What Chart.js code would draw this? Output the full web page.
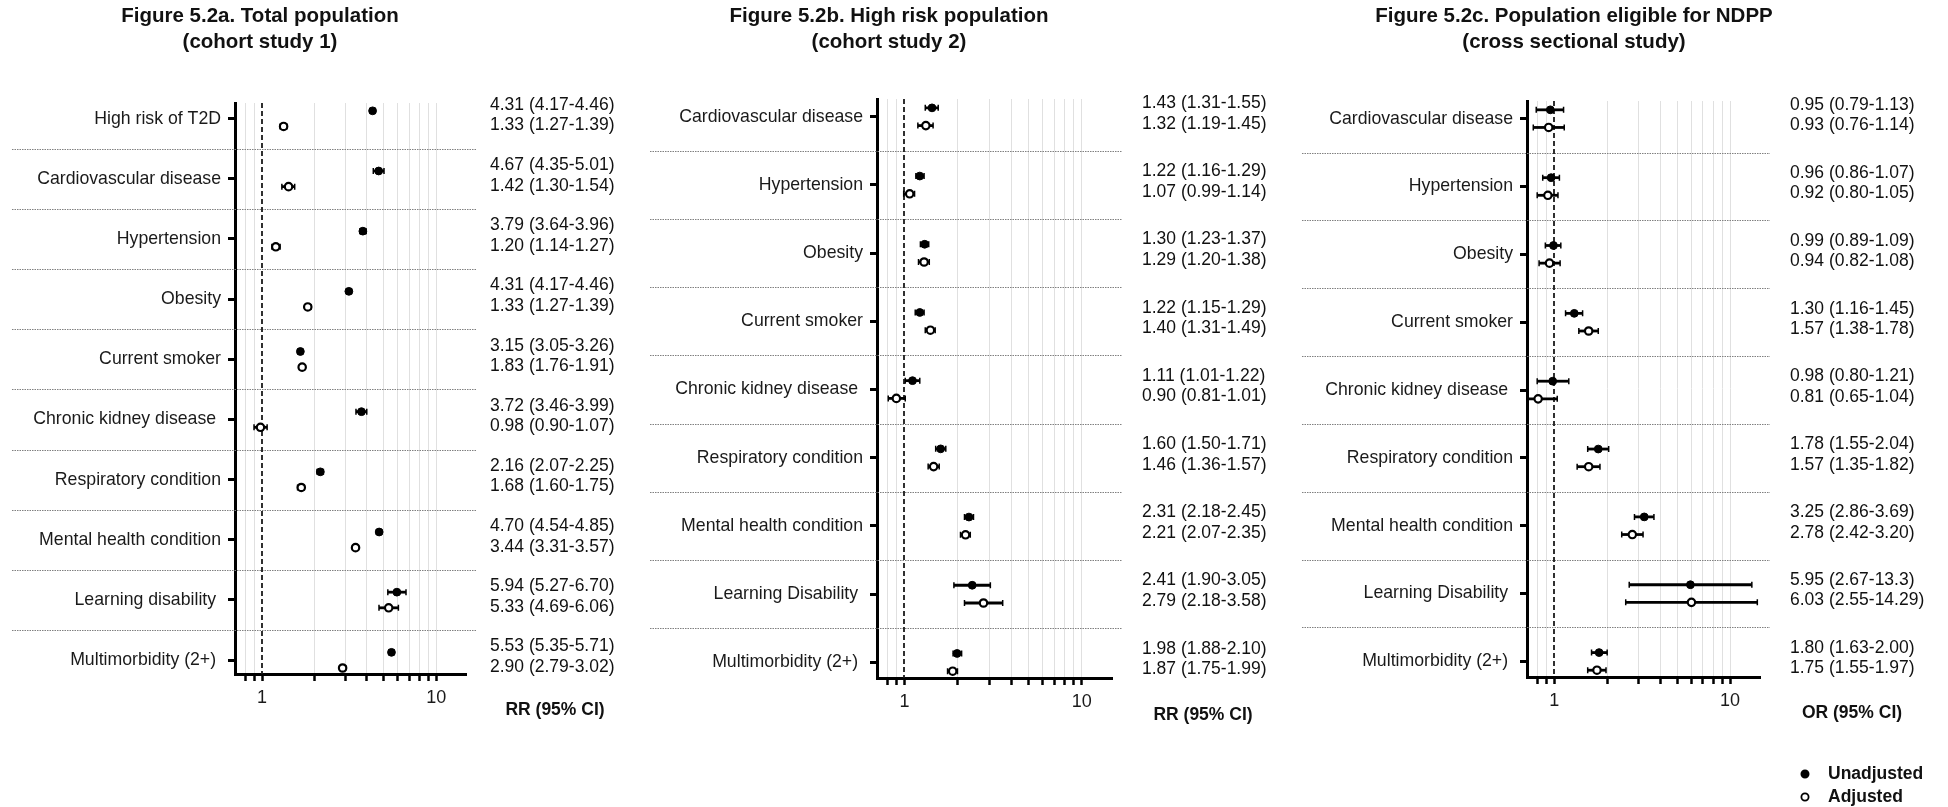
<!DOCTYPE html>
<html lang="en">

<head>
    <meta charset="UTF-8">
    <title>Figure 5.2 forest plots</title>
    <script src="https://cdn.jsdelivr.net/npm/chart.js@4"></script>
    <style>
        body {
            margin: 0;
            background: #ffffff;
            width: 1948px;
            height: 807px;
            overflow: hidden;
            position: relative;
        }

        canvas {
            position: absolute;
            top: 0;
        }
    </style>
</head>

<body>
    <canvas id="panelA" width="650" height="807" style="left:0px"></canvas>
    <canvas id="panelB" width="648" height="807" style="left:650px"></canvas>
    <canvas id="panelC" width="650" height="807" style="left:1298px"></canvas>

    <script>
        // ---- Figure 5.2a: total population (cohort study 1) ----
        const catsA = ['High risk of T2D', 'Cardiovascular disease', 'Hypertension', 'Obesity', 'Current smoker',
            'Chronic kidney disease ', 'Respiratory condition', 'Mental health condition', 'Learning disability ',
            'Multimorbidity (2+) '];
        // plotted positions as drawn in the figure
        const unadjEstA = [4.31, 4.67, 3.79, 3.15, 1.66, 3.72, 2.16, 4.70, 5.94, 5.53];
        const unadjLoA = [4.17, 4.35, 3.64, 3.05, 1.61, 3.46, 2.07, 4.54, 5.27, 5.35];
        const unadjHiA = [4.46, 5.01, 3.96, 3.26, 1.71, 3.99, 2.25, 4.85, 6.70, 5.71];
        const adjEstA = [1.33, 1.42, 1.20, 1.83, 1.70, 0.98, 1.68, 3.44, 5.33, 2.90];
        const adjLoA = [1.27, 1.30, 1.14, 1.76, 1.64, 0.90, 1.60, 3.31, 4.69, 2.79];
        const adjHiA = [1.39, 1.54, 1.27, 1.91, 1.76, 1.07, 1.75, 3.57, 6.06, 3.02];
        // printed text column
        const unadjTextA = ['4.31 (4.17-4.46)', '4.67 (4.35-5.01)', '3.79 (3.64-3.96)', '4.31 (4.17-4.46)',
            '3.15 (3.05-3.26)', '3.72 (3.46-3.99)', '2.16 (2.07-2.25)', '4.70 (4.54-4.85)', '5.94 (5.27-6.70)',
            '5.53 (5.35-5.71)'];
        const adjTextA = ['1.33 (1.27-1.39)', '1.42 (1.30-1.54)', '1.20 (1.14-1.27)', '1.33 (1.27-1.39)',
            '1.83 (1.76-1.91)', '0.98 (0.90-1.07)', '1.68 (1.60-1.75)', '3.44 (3.31-3.57)', '5.33 (4.69-6.06)',
            '2.90 (2.79-3.02)'];

        // ---- Figure 5.2b: high risk population (cohort study 2) ----
        const catsB = ['Cardiovascular disease', 'Hypertension', 'Obesity', 'Current smoker', 'Chronic kidney disease ',
            'Respiratory condition', 'Mental health condition', 'Learning Disability ', 'Multimorbidity (2+) '];
        const unadjEstB = [1.43, 1.22, 1.30, 1.22, 1.11, 1.60, 2.31, 2.41, 1.98];
        const unadjLoB = [1.31, 1.16, 1.23, 1.15, 1.01, 1.50, 2.18, 1.90, 1.88];
        const unadjHiB = [1.55, 1.29, 1.37, 1.29, 1.22, 1.71, 2.45, 3.05, 2.10];
        const adjEstB = [1.32, 1.07, 1.29, 1.40, 0.90, 1.46, 2.21, 2.79, 1.87];
        const adjLoB = [1.19, 0.99, 1.20, 1.31, 0.81, 1.36, 2.07, 2.18, 1.75];
        const adjHiB = [1.45, 1.14, 1.38, 1.49, 1.01, 1.57, 2.35, 3.58, 1.99];
        const unadjTextB = ['1.43 (1.31-1.55)', '1.22 (1.16-1.29)', '1.30 (1.23-1.37)', '1.22 (1.15-1.29)',
            '1.11 (1.01-1.22)', '1.60 (1.50-1.71)', '2.31 (2.18-2.45)', '2.41 (1.90-3.05)', '1.98 (1.88-2.10)'];
        const adjTextB = ['1.32 (1.19-1.45)', '1.07 (0.99-1.14)', '1.29 (1.20-1.38)', '1.40 (1.31-1.49)',
            '0.90 (0.81-1.01)', '1.46 (1.36-1.57)', '2.21 (2.07-2.35)', '2.79 (2.18-3.58)', '1.87 (1.75-1.99)'];

        // ---- Figure 5.2c: population eligible for NDPP (cross sectional study) ----
        const catsC = ['Cardiovascular disease', 'Hypertension', 'Obesity', 'Current smoker', 'Chronic kidney disease ',
            'Respiratory condition', 'Mental health condition', 'Learning Disability ', 'Multimorbidity (2+) '];
        const unadjEstC = [0.95, 0.96, 0.99, 1.30, 0.98, 1.78, 3.25, 5.95, 1.80];
        const unadjLoC = [0.79, 0.86, 0.89, 1.16, 0.80, 1.55, 2.86, 2.67, 1.63];
        const unadjHiC = [1.13, 1.07, 1.09, 1.45, 1.21, 2.04, 3.69, 13.3, 2.00];
        const adjEstC = [0.93, 0.92, 0.94, 1.57, 0.81, 1.57, 2.78, 6.03, 1.75];
        const adjLoC = [0.76, 0.80, 0.82, 1.38, 0.65, 1.35, 2.42, 2.55, 1.55];
        const adjHiC = [1.14, 1.05, 1.08, 1.78, 1.04, 1.82, 3.20, 14.29, 1.97];
        const unadjTextC = ['0.95 (0.79-1.13)', '0.96 (0.86-1.07)', '0.99 (0.89-1.09)', '1.30 (1.16-1.45)',
            '0.98 (0.80-1.21)', '1.78 (1.55-2.04)', '3.25 (2.86-3.69)', '5.95 (2.67-13.3)', '1.80 (1.63-2.00)'];
        const adjTextC = ['0.93 (0.76-1.14)', '0.92 (0.80-1.05)', '0.94 (0.82-1.08)', '1.57 (1.38-1.78)',
            '0.81 (0.65-1.04)', '1.57 (1.35-1.82)', '2.78 (2.42-3.20)', '6.03 (2.55-14.29)', '1.75 (1.55-1.97)'];

        // shared axis
        const X_MIN = 0.7;
        const X_MAX = 14.8;
        const X_TICKS = [0.8, 0.9, 1, 2, 3, 4, 5, 6, 7, 8, 9, 10];
        const X_LABELED = [1, 10];
        const REF_VALUE = 1;
        const SERIES = ['Unadjusted', 'Adjusted'];

        const FONT = "'Liberation Sans', Arial, Helvetica, sans-serif";
        const OFF = 0.13; // vertical split between the two markers of a row

        function makeForest(id, p) {
            const canvas = document.getElementById(id);
            const W = canvas.width, H = canvas.height;
            const n = p.cats.length;

            const decor = {
                id: 'forestDecor',
                beforeDatasetsDraw(chart) {
                    const { ctx, chartArea: a, scales: { x, y } } = chart;
                    ctx.save();
                    // dotted row separators
                    ctx.strokeStyle = '#808080';
                    ctx.lineWidth = 1;
                    ctx.setLineDash([1.5, 1]);
                    for (let i = 0; i < n - 1; i++) {
                        const yy = Math.round(y.getPixelForValue(i + 0.5)) + 0.5;
                        ctx.beginPath();
                        ctx.moveTo(p.sepLeft, yy);
                        ctx.lineTo(a.right + 10, yy);
                        ctx.stroke();
                    }
                    // dashed line of no effect
                    const rx = Math.round(x.getPixelForValue(REF_VALUE));
                    ctx.strokeStyle = '#1a1a1a';
                    ctx.lineWidth = 1.8;
                    ctx.setLineDash([5, 3]);
                    ctx.beginPath();
                    ctx.moveTo(rx, a.top);
                    ctx.lineTo(rx, a.bottom);
                    ctx.stroke();
                    ctx.setLineDash([]);

                    // confidence intervals
                    ctx.beginPath();
                    ctx.rect(a.left, a.top, a.right - a.left, a.bottom - a.top);
                    ctx.clip();
                    ctx.strokeStyle = '#000';
                    [[p.unLo, p.unHi, -OFF], [p.adLo, p.adHi, OFF]].forEach(([lo, hi, d]) => {
                        for (let i = 0; i < n; i++) {
                            const yy = y.getPixelForValue(i + d);
                            const x1 = x.getPixelForValue(lo[i]);
                            const x2 = x.getPixelForValue(hi[i]);
                            ctx.lineWidth = 2.8;
                            ctx.beginPath();
                            ctx.moveTo(x1, yy);
                            ctx.lineTo(x2, yy);
                            ctx.stroke();
                            ctx.lineWidth = 1.5;
                            ctx.beginPath();
                            ctx.moveTo(x1, yy - 3);
                            ctx.lineTo(x1, yy + 3);
                            ctx.moveTo(x2, yy - 3);
                            ctx.lineTo(x2, yy + 3);
                            ctx.stroke();
                        }
                    });
                    ctx.restore();
                },
                afterDraw(chart) {
                    const { ctx, scales: { y } } = chart;
                    ctx.save();
                    ctx.fillStyle = '#111';
                    ctx.textBaseline = 'middle';

                    // title
                    ctx.font = `bold 20.5px ${FONT}`;
                    ctx.textAlign = 'center';
                    p.title.forEach((t, k) => ctx.fillText(t, p.titleX, 16 + 26 * k));

                    // estimate (95% CI) column
                    ctx.font = `17.5px ${FONT}`;
                    ctx.textAlign = 'left';
                    for (let i = 0; i < n; i++) {
                        const yy = y.getPixelForValue(i);
                        ctx.fillText(p.unText[i], p.valueX, yy - 13.5);
                        ctx.fillText(p.adText[i], p.valueX, yy + 7);
                    }

                    // measure label
                    ctx.font = `bold 17.5px ${FONT}`;
                    ctx.textAlign = 'center';
                    ctx.fillText(p.measure, p.measureX, p.measureY);

                    // legend
                    if (p.legend) {
                        const rows = [[SERIES[0], '#000', 774], [SERIES[1], '#fff', 797]];
                        rows.forEach(([label, fill, yy]) => {
                            ctx.beginPath();
                            ctx.arc(p.legend.x, yy, 3.6, 0, Math.PI * 2);
                            ctx.fillStyle = fill;
                            ctx.fill();
                            ctx.lineWidth = 1.8;
                            ctx.strokeStyle = '#000';
                            ctx.stroke();
                            ctx.fillStyle = '#111';
                            ctx.textAlign = 'left';
                            ctx.fillText(label, p.legend.textX, yy);
                        });
                    }
                    ctx.restore();
                }
            };

            return new Chart(canvas, {
                type: 'scatter',
                data: {
                    datasets: [{
                        label: SERIES[0],
                        data: p.unEst.map((v, i) => ({ x: v, y: i - OFF })),
                        pointRadius: 3.9,
                        backgroundColor: '#000',
                        borderColor: '#000',
                        borderWidth: 1
                    }, {
                        label: SERIES[1],
                        data: p.adEst.map((v, i) => ({ x: v, y: i + OFF })),
                        pointRadius: 3.7,
                        backgroundColor: '#fff',
                        borderColor: '#000',
                        borderWidth: 2.2
                    }]
                },
                options: {
                    responsive: false,
                    animation: false,
                    devicePixelRatio: 1,
                    layout: {
                        padding: { left: 0, top: p.area.top, right: W - p.area.right, bottom: 0 }
                    },
                    plugins: {
                        legend: { display: false },
                        tooltip: { enabled: false }
                    },
                    scales: {
                        x: {
                            type: 'logarithmic',
                            min: X_MIN,
                            max: X_MAX,
                            afterBuildTicks: s => { s.ticks = X_TICKS.map(v => ({ value: v })); },
                            afterFit: s => { s.height = H - p.area.bottom; },
                            ticks: {
                                autoSkip: false,
                                maxRotation: 0,
                                padding: 6,
                                color: '#1a1a1a',
                                font: { family: FONT, size: 18 },
                                callback: v => X_LABELED.includes(v) ? String(v) : ''
                            },
                            grid: {
                                color: c => (c.tick && c.tick.value === REF_VALUE) ? 'rgba(0,0,0,0)' : '#e0e0e0',
                                lineWidth: 1,
                                tickColor: '#000',
                                tickLength: 7,
                                tickWidth: 2.5
                            },
                            border: { color: '#000', width: 3 }
                        },
                        y: {
                            type: 'linear',
                            reverse: true,
                            min: -0.26,
                            max: n - 0.77,
                            afterBuildTicks: s => { s.ticks = p.cats.map((_, i) => ({ value: i })); },
                            afterFit: s => { s.width = p.area.left; },
                            ticks: {
                                autoSkip: false,
                                padding: 7,
                                color: '#1a1a1a',
                                font: { family: FONT, size: 17.7 },
                                callback: v => p.cats[Math.round(v)]
                            },
                            grid: {
                                drawOnChartArea: false,
                                tickColor: '#000',
                                tickLength: 7,
                                tickWidth: 3
                            },
                            border: { color: '#000', width: 3 }
                        }
                    }
                },
                plugins: [decor]
            });
        }

        makeForest('panelA', {
            cats: catsA,
            unEst: unadjEstA, unLo: unadjLoA, unHi: unadjHiA,
            adEst: adjEstA, adLo: adjLoA, adHi: adjHiA,
            unText: unadjTextA, adText: adjTextA,
            title: ['Figure 5.2a. Total population', '(cohort study 1)'],
            measure: 'RR (95% CI)',
            area: { left: 235, right: 466, top: 103, bottom: 674 },
            titleX: 260, sepLeft: 12, valueX: 490, measureX: 555, measureY: 710
        });

        makeForest('panelB', {
            cats: catsB,
            unEst: unadjEstB, unLo: unadjLoB, unHi: unadjHiB,
            adEst: adjEstB, adLo: adjLoB, adHi: adjHiB,
            unText: unadjTextB, adText: adjTextB,
            title: ['Figure 5.2b. High risk population', '(cohort study 2)'],
            measure: 'RR (95% CI)',
            area: { left: 227, right: 462, top: 99, bottom: 678 },
            titleX: 239, sepLeft: 0, valueX: 492, measureX: 553, measureY: 715
        });

        makeForest('panelC', {
            cats: catsC,
            unEst: unadjEstC, unLo: unadjLoC, unHi: unadjHiC,
            adEst: adjEstC, adLo: adjLoC, adHi: adjHiC,
            unText: unadjTextC, adText: adjTextC,
            title: ['Figure 5.2c. Population eligible for NDPP', '(cross sectional study)'],
            measure: 'OR (95% CI)',
            area: { left: 229, right: 462, top: 101, bottom: 677 },
            titleX: 276, sepLeft: 4, valueX: 492, measureX: 554, measureY: 713,
            legend: { x: 507, textX: 530 }
        });
    </script>

</body>

</html>
